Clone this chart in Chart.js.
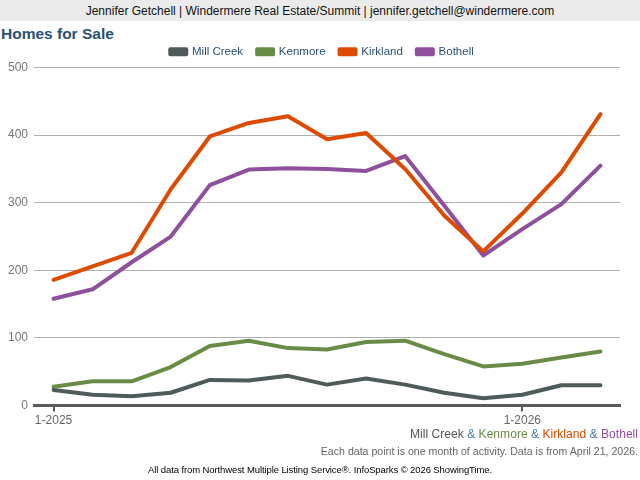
<!DOCTYPE html>
<html>
<head>
<meta charset="utf-8">
<script src="https://cdn.jsdelivr.net/npm/chart.js@4"></script>
<style>
  html, body { margin: 0; padding: 0; background: #fff; width: 640px; height: 480px; overflow: hidden; font-family: "Liberation Sans", Arial, sans-serif; }
  #hdr { position: absolute; left: 0; top: 0; width: 640px; height: 21px; background: #ebebeb; color: #111; font-size: 12px; line-height: 22px; text-align: center; }
  #title { position: absolute; left: 1px; top: 25px; font-size: 15.5px; font-weight: bold; color: #2b5075; }
  #wrap { position: absolute; left: 0; top: 32px; width: 640px; height: 400px; }
  #series { position: absolute; right: 2px; top: 427px; font-size: 12.1px; color: #555; white-space: nowrap; }
  #note { position: absolute; right: 2px; top: 445px; font-size: 10.6px; color: #666; white-space: nowrap; }
  #src { position: absolute; left: 0; width: 640px; top: 464px; font-size: 9.5px; color: #000; text-align: center; letter-spacing: -0.1px; }
</style>
</head>
<body>
<div id="hdr">Jennifer Getchell | Windermere Real Estate/Summit | jennifer.getchell@windermere.com</div>
<div id="title">Homes for Sale</div>
<div id="wrap"><canvas id="c"></canvas></div>
<div id="series"><span style="color:#555">Mill Creek</span> <span style="color:#4a74a8">&amp;</span> <span style="color:#6a8b45">Kenmore</span> <span style="color:#4a74a8">&amp;</span> <span style="color:#dd4b00">Kirkland</span> <span style="color:#4a74a8">&amp;</span> <span style="color:#8e4f9c">Bothell</span></div>
<div id="note">Each data point is one month of activity. Data is from April 21, 2026.</div>
<div id="src">All data from Northwest Multiple Listing Service®. InfoSparks © 2026 ShowingTime.</div>
<script>
const months = ["1-2025","2-2025","3-2025","4-2025","5-2025","6-2025","7-2025","8-2025","9-2025","10-2025","11-2025","12-2025","1-2026","2-2026","3-2026"];
const millCreek = [23, 16, 14, 19, 38, 37, 44, 31, 40, 31, 19, 11, 16, 30, 30];
const kenmore   = [28, 36, 36, 57, 88, 96, 85, 83, 94, 96, 76, 58, 62, 71, 80];
const kirkland  = [186, 206, 226, 320, 398, 418, 428, 394, 403, 350, 281, 228, 284, 345, 431];
const bothell   = [158, 172, 212, 250, 326, 349, 351, 350, 347, 369, 296, 222, 261, 298, 355];
const yTicks = [0, 100, 200, 300, 400, 500];

const FONT = "'Liberation Sans', Arial, sans-serif";
function ds(label, data, color) {
  return { label, data, borderColor: color, backgroundColor: color, borderWidth: 4, pointRadius: 0, tension: 0, borderCapStyle: 'round', borderJoinStyle: 'round' };
}
const legendShift = {
  id: 'legendShift',
  afterLayout(chart) {
    const lg = chart.legend;
    if (lg) { lg.left += 11; lg.right += 11; }
  }
};
new Chart(document.getElementById('c'), {
  type: 'line',
  data: {
    labels: months,
    datasets: [
      ds('Mill Creek', millCreek, '#4f5b5b'),
      ds('Kenmore', kenmore, '#6a8b45'),
      ds('Kirkland', kirkland, '#dd4b00'),
      ds('Bothell', bothell, '#8e4f9c')
    ]
  },
  plugins: [legendShift],
  options: {
    responsive: true, maintainAspectRatio: false, animation: false,
    layout: { padding: { left: 2, right: 20, top: 0, bottom: 2 } },
    plugins: {
      legend: {
        display: true, position: 'top',
        labels: { boxWidth: 16, boxHeight: 5, color: '#2b5075', font: { family: FONT, size: 11.5 }, padding: 14 }
      },
      tooltip: { enabled: false }
    },
    scales: {
      x: {
        offset: true,
        border: { display: true, color: '#5a5a5a', width: 3 },
        grid: { display: true, drawOnChartArea: false, drawTicks: true, tickLength: 6, color: '#5a5a5a', lineWidth: 2 },
        ticks: {
          autoSkip: false, maxRotation: 0, color: '#666', font: { family: FONT, size: 12 }, padding: 2,
          callback: function(v, i) { return (i % 12 === 0) ? months[i] : null; }
        }
      },
      y: {
        min: 0, max: 500,
        afterBuildTicks: (s) => { s.ticks = yTicks.map(v => ({ value: v })); },
        border: { display: false },
        grid: { color: '#b0b0b0', lineWidth: 1, drawTicks: false },
        ticks: { color: '#777', font: { family: FONT, size: 12 }, padding: 6 }
      }
    }
  }
});
</script>
</body>
</html>
